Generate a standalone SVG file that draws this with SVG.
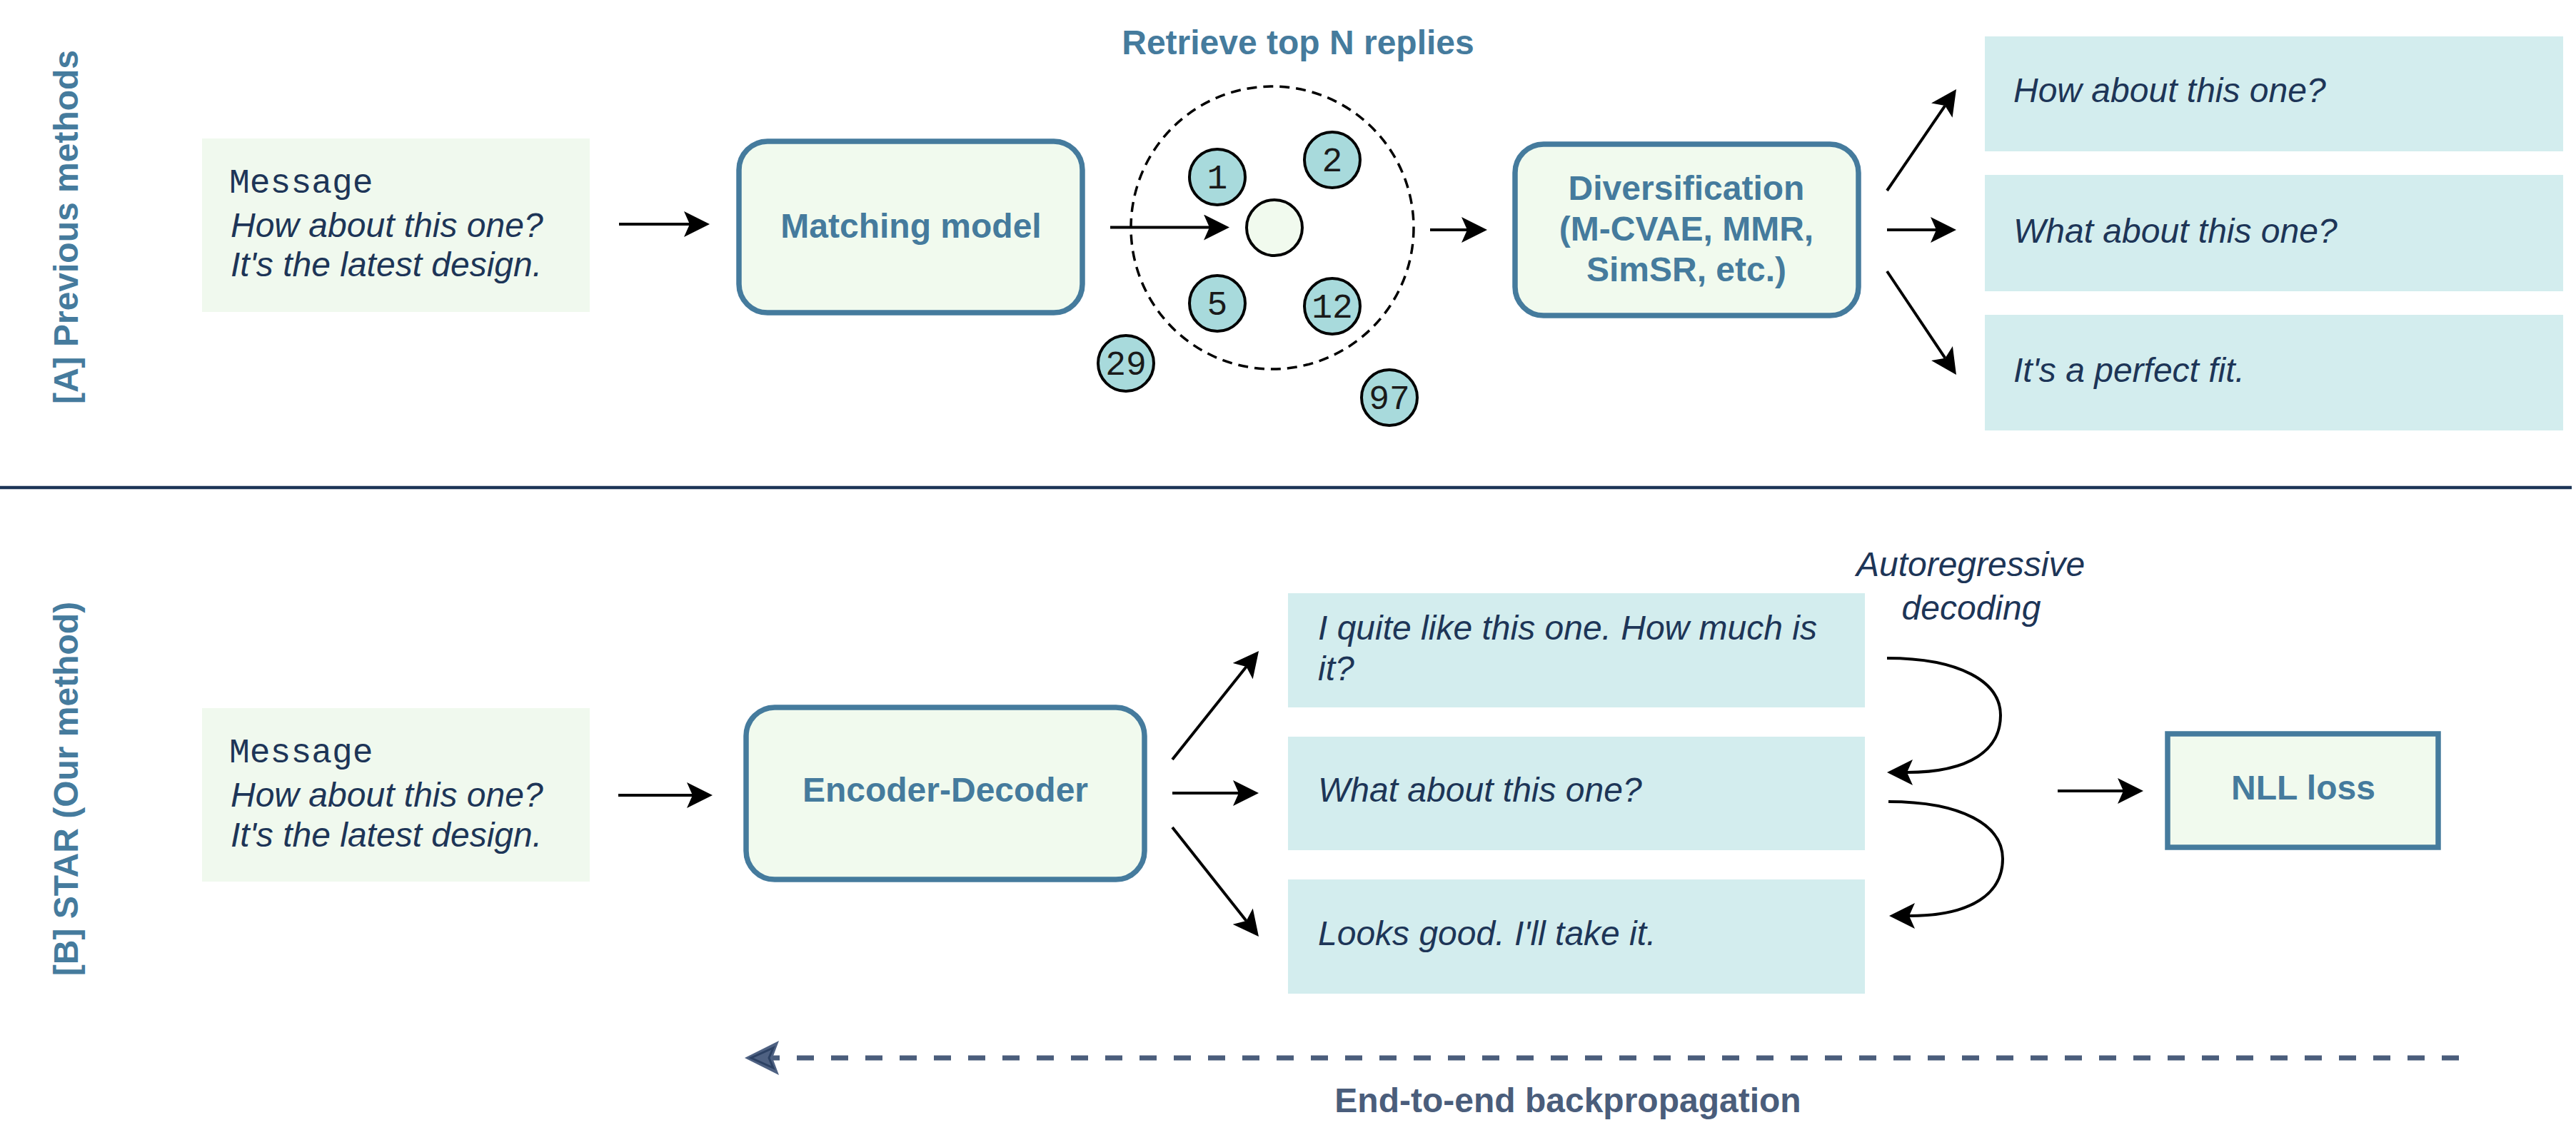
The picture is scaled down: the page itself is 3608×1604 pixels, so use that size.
<svg xmlns="http://www.w3.org/2000/svg" width="3608" height="1604" viewBox="0 0 3608 1604">
<style>
text{font-family:"Liberation Sans",Arial,sans-serif;font-size:48px}
.lbl{font-weight:bold;fill:#457B9D}
.it{font-style:italic;fill:#1D3557}
.mono{font-family:"Liberation Mono","Courier New",monospace;fill:#1D3557}
.num{font-family:"Liberation Mono","Courier New",monospace;fill:#1a1a1a;text-anchor:middle}
.msg{fill:#F0F9EE}
.rep{fill:#D3EDEE}
.box{fill:#F1FAEE;stroke:#457B9D;stroke-width:7.5}
.dot{fill:#A8DADC;stroke:#000;stroke-width:4}
.edge{fill:none;stroke:#000;stroke-width:4;marker-end:url(#ah)}
</style>
<defs>
<marker id="ah" viewBox="0 0 36 36" refX="8" refY="18" markerWidth="36" markerHeight="36" markerUnits="userSpaceOnUse" orient="auto"><path d="M0,0 L36,18 L0,36 L8,18 Z" fill="#000"/></marker>
<marker id="ahb" viewBox="0 0 50 50" refX="10" refY="25" markerWidth="50" markerHeight="50" markerUnits="userSpaceOnUse" orient="auto"><path d="M1,1 L49,25 L1,49 L10,25 Z" fill="#4E6182"/><path d="M9,11 L40,25 L9,39 L15,25 Z" fill="none" stroke="#2C4163" stroke-width="3"/></marker>
</defs>
<rect width="3608" height="1604" fill="#fff"/>

<g id="section-labels">
<text class="lbl" transform="translate(109,318) rotate(-90)" text-anchor="middle">[A] Previous methods</text>
<text class="lbl" transform="translate(109,1105) rotate(-90)" text-anchor="middle">[B] STAR (Our method)</text>
</g>

<line id="divider" x1="0" y1="683" x2="3602" y2="683" stroke="#1D3557" stroke-width="4.5"/>

<g id="msg-a">
<rect class="msg" x="283" y="194" width="543" height="243"/>
<text class="mono" x="321" y="270">Message</text>
<text class="it" x="323" y="332">How about this one?</text>
<text class="it" x="323" y="387">It's the latest design.</text>
</g>

<g id="matching-model">
<rect class="box" x="1035" y="198" width="481" height="240" rx="40"/>
<text class="lbl" x="1276" y="333" text-anchor="middle">Matching model</text>
</g>

<g id="retrieve">
<text class="lbl" x="1818" y="76" text-anchor="middle">Retrieve top N replies</text>
<circle cx="1782" cy="319" r="198" fill="none" stroke="#000" stroke-width="3.5" stroke-dasharray="14 9"/>
</g>
<g id="c1"><circle class="dot" cx="1705" cy="248" r="39"/><text class="num" x="1705" y="264">1</text></g>
<g id="c2"><circle class="dot" cx="1866" cy="224" r="39"/><text class="num" x="1866" y="240">2</text></g>
<g id="c-query"><circle cx="1785" cy="319" r="39" fill="#F1FAEE" stroke="#000" stroke-width="4"/></g>
<g id="c5"><circle class="dot" cx="1705" cy="425" r="39"/><text class="num" x="1705" y="441">5</text></g>
<g id="c12"><circle class="dot" cx="1866" cy="429" r="39"/><text class="num" x="1866" y="445">12</text></g>
<g id="c29"><circle class="dot" cx="1577" cy="509" r="39"/><text class="num" x="1577" y="525">29</text></g>
<g id="c97"><circle class="dot" cx="1946" cy="557" r="39"/><text class="num" x="1946" y="573">97</text></g>

<g id="diversification">
<rect class="box" x="2122" y="202" width="481" height="240" rx="40"/>
<text class="lbl" x="2362" y="280" text-anchor="middle">Diversification</text>
<text class="lbl" x="2362" y="337" text-anchor="middle">(M-CVAE, MMR,</text>
<text class="lbl" x="2362" y="394" text-anchor="middle">SimSR, etc.)</text>
</g>

<g id="reply-a1"><rect class="rep" x="2780" y="51" width="810" height="161"/><text class="it" x="2820" y="143">How about this one?</text></g>
<g id="reply-a2"><rect class="rep" x="2780" y="245" width="810" height="163"/><text class="it" x="2820" y="340">What about this one?</text></g>
<g id="reply-a3"><rect class="rep" x="2780" y="441" width="810" height="162"/><text class="it" x="2820" y="535">It's a perfect fit.</text></g>

<g id="msg-b">
<rect class="msg" x="283" y="992" width="543" height="243"/>
<text class="mono" x="321" y="1068">Message</text>
<text class="it" x="323" y="1130">How about this one?</text>
<text class="it" x="323" y="1186">It's the latest design.</text>
</g>

<g id="encoder-decoder">
<rect class="box" x="1045" y="991" width="558" height="241" rx="40"/>
<text class="lbl" x="1324" y="1123" text-anchor="middle">Encoder-Decoder</text>
</g>

<g id="reply-b1"><rect class="rep" x="1804" y="831" width="808" height="160"/><text class="it" x="1846" y="896">I quite like this one. How much is</text><text class="it" x="1846" y="953">it?</text></g>
<g id="reply-b2"><rect class="rep" x="1804" y="1032" width="808" height="159"/><text class="it" x="1846" y="1123">What about this one?</text></g>
<g id="reply-b3"><rect class="rep" x="1804" y="1232" width="808" height="160"/><text class="it" x="1846" y="1324">Looks good. I'll take it.</text></g>

<g id="ar-label">
<text class="it" x="2760" y="807" text-anchor="middle">Autoregressive</text>
<text class="it" x="2761" y="868" text-anchor="middle">decoding</text>
</g>

<g id="nll-loss">
<rect class="box" x="3036" y="1028" width="379" height="159"/>
<text class="lbl" x="3226" y="1120" text-anchor="middle">NLL loss</text>
</g>

<g id="bp-label">
<text x="2196" y="1558" text-anchor="middle" font-weight="bold" fill="#4A5D7B">End-to-end backpropagation</text>
</g>

<g id="connectors">
<path class="edge" d="M867,314 L966,314"/>
<path class="edge" d="M1555,318.5 L1694,318.5"/>
<path class="edge" d="M2003,322 L2055,322"/>
<path class="edge" d="M2643,267 L2724.2,148.1"/>
<path class="edge" d="M2643,322 L2712,322"/>
<path class="edge" d="M2643,380 L2724.4,501.7"/>
<path class="edge" d="M866,1114 L970,1114"/>
<path class="edge" d="M1642,1064 L1745.6,933.9"/>
<path class="edge" d="M1642,1111 L1735,1111"/>
<path class="edge" d="M1642,1159 L1745.6,1290"/>
<path class="edge" d="M2643,922 C2745,922 2802,955 2802,1002 C2802,1050 2760,1082 2671,1082"/>
<path class="edge" d="M2645,1123 C2748,1123 2805,1156 2805,1203 C2805,1251 2763,1283 2674,1283"/>
<path class="edge" d="M2882,1108 L2974,1108"/>
<path d="M3444,1482 L1082,1482" fill="none" stroke="#4A5D7B" stroke-width="7" stroke-dasharray="24 24" marker-end="url(#ahb)"/>
</g>
</svg>
